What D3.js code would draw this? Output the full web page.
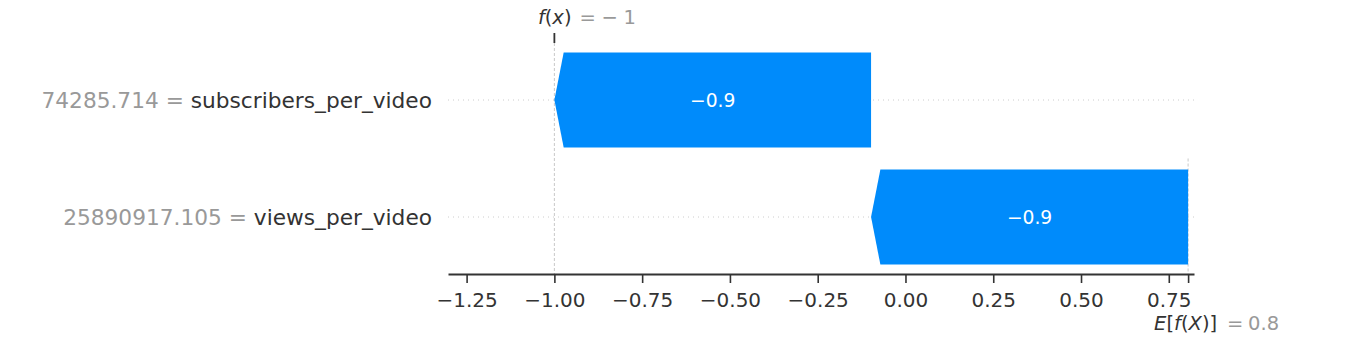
<!DOCTYPE html>
<html>
<head>
<meta charset="utf-8">
<script src="https://cdn.jsdelivr.net/npm/d3@7"></script>
<style>
  html, body { margin: 0; padding: 0; background: #fff; }
  svg { display: block; font-family: "DejaVu Sans", sans-serif; }
</style>
</head>
<body>
<svg id="chart" width="1367" height="337"></svg>
<script>
// ---- data (top row first) ----
const featureNames  = ["subscribers_per_video", "views_per_video"];
const featureValues = ["74285.714", "25890917.105"];
const shapValues    = [-0.902, -0.903];
const baseValue     = 0.805;
const tickValues    = [-1.25, -1.0, -0.75, -0.5, -0.25, 0.0, 0.25, 0.5, 0.75];
const fxLabel       = "1";
const baseLabel     = "0.8";

const fx = baseValue + d3.sum(shapValues);

const svg = d3.select("#chart");

const x = d3.scaleLinear().domain([-1.303, 0.8218]).range([448, 1194]);
const y = d3.scaleLinear().domain([0, 1]).range([100, 217]);
const axisY = 274;
const axTop = 43;
const barHalf = 47.5;
const head = 9.3;
const blue = "#008bfb";
const mathSize = "19.5px";

// waterfall: bottom row starts at base value, accumulate upward
const n = featureNames.length;
const segs = [];
let cur = baseValue;
for (let i = n - 1; i >= 0; i--) {
  const start = cur, end = cur + shapValues[i];
  segs[i] = { i, start, end, v: shapValues[i] };
  cur = end;
}

// horizontal dotted row lines
svg.append("g").selectAll("line").data(segs).join("line")
  .attr("x1", x.range()[0]).attr("x2", x.range()[1])
  .attr("y1", d => y(d.i)).attr("y2", d => y(d.i))
  .attr("stroke", "#cccccc").attr("stroke-width", 1)
  .attr("stroke-dasharray", "1,4");

// vertical dashed lines
svg.append("line")
  .attr("x1", x(fx)).attr("x2", x(fx)).attr("y1", axTop).attr("y2", axisY)
  .attr("stroke", "#bbbbbb").attr("stroke-width", 0.8).attr("stroke-dasharray", "3,2");
svg.append("line")
  .attr("x1", x(baseValue)).attr("x2", x(baseValue))
  .attr("y1", axisY - (axisY - axTop) / n).attr("y2", axisY)
  .attr("stroke", "#bbbbbb").attr("stroke-width", 0.8).attr("stroke-dasharray", "3,2");

// bars (arrows)
function arrowPath(d) {
  const cy = y(d.i);
  const x0 = x(d.start), x1 = x(d.end);
  const dir = Math.sign(x1 - x0) || 1;
  const hl = Math.min(head, Math.abs(x1 - x0));
  const xb = x1 - dir * hl;
  return `M${x0},${cy - barHalf} L${xb},${cy - barHalf} L${x1},${cy} L${xb},${cy + barHalf} L${x0},${cy + barHalf} Z`;
}
svg.append("g").selectAll("path").data(segs).join("path")
  .attr("d", arrowPath)
  .attr("fill", blue);

// bar value labels
const fmt = d3.format(".1f");
svg.append("g").selectAll("text").data(segs).join("text")
  .attr("x", d => (x(d.start) + x(d.end)) / 2)
  .attr("y", d => y(d.i))
  .attr("dy", "0.35em")
  .attr("text-anchor", "middle")
  .attr("fill", "#ffffff")
  .attr("font-size", "18.7px")
  .text(d => fmt(d.v));

// y labels
const yl = svg.append("g").selectAll("text").data(segs).join("text")
  .attr("x", 432)
  .attr("y", d => y(d.i))
  .attr("dy", "0.36em")
  .attr("text-anchor", "end")
  .attr("font-size", "21.7px");
yl.append("tspan").attr("fill", "#999999").text(d => featureValues[d.i] + " = ");
yl.append("tspan").attr("fill", "#333333").text(d => featureNames[d.i]);

// bottom axis
const axis = d3.axisBottom(x)
  .tickValues(tickValues.concat([baseValue]))
  .tickFormat(d => tickValues.includes(d) ? d3.format(".2f")(d) : "")
  .tickSize(9).tickPadding(10).tickSizeOuter(0);
const ag = svg.append("g").attr("transform", `translate(0,${axisY})`).call(axis);
ag.select(".domain").attr("stroke", "#333333").attr("stroke-width", 2);
ag.selectAll(".tick line").attr("stroke", "#333333").attr("stroke-width", 1.6);
ag.selectAll(".tick text").attr("fill", "#333333").attr("font-size", "20px")
  .attr("font-family", "DejaVu Sans, sans-serif");

// top tick at f(x)
svg.append("line")
  .attr("x1", x(fx)).attr("x2", x(fx)).attr("y1", axTop).attr("y2", axTop - 10)
  .attr("stroke", "#333333").attr("stroke-width", 1.8);

// f(x) label
const fxX = x(fx);
const t1 = svg.append("text").attr("x", fxX - 16.5).attr("y", 17).attr("dy", "0.35em")
  .attr("font-size", mathSize).attr("fill", "#333333");
t1.append("tspan").attr("font-style", "italic").text("f");
t1.append("tspan").text("(");
t1.append("tspan").attr("font-style", "italic").text("x");
t1.append("tspan").text(")");
svg.append("text").attr("x", fxX + 25).attr("y", 17).attr("dy", "0.35em")
  .attr("font-size", mathSize).attr("fill", "#999999").text("=");
svg.append("text").attr("x", fxX + 47).attr("y", 17).attr("dy", "0.35em")
  .attr("font-size", mathSize).attr("fill", "#999999").text("\u2212");
svg.append("text").attr("x", fxX + 81.5).attr("y", 17).attr("dy", "0.35em")
  .attr("text-anchor", "end")
  .attr("font-size", mathSize).attr("fill", "#999999").text(fxLabel);

// E[f(X)] label
const bX = x(baseValue);
const t2 = svg.append("text").attr("x", bX - 34).attr("y", 323).attr("dy", "0.35em")
  .attr("font-size", mathSize).attr("fill", "#333333");
t2.append("tspan").attr("font-style", "italic").text("E");
t2.append("tspan").text("[");
t2.append("tspan").attr("font-style", "italic").text("f");
t2.append("tspan").text("(");
t2.append("tspan").attr("font-style", "italic").text("X");
t2.append("tspan").text(")]");
svg.append("text").attr("x", bX + 39).attr("y", 323).attr("dy", "0.35em")
  .attr("font-size", mathSize).attr("fill", "#999999").text("=");
svg.append("text").attr("x", bX + 91).attr("y", 323).attr("dy", "0.35em")
  .attr("text-anchor", "end")
  .attr("font-size", mathSize).attr("fill", "#999999").text(baseLabel);
</script>
</body>
</html>
